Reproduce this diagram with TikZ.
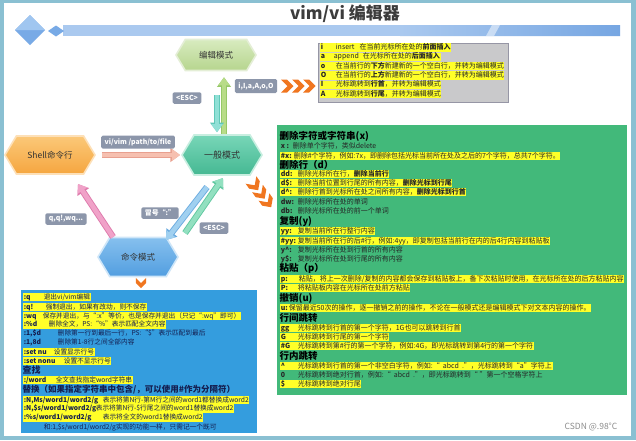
\documentclass[tikz,border=0pt]{standalone}
\usepackage{fontspec}
\setmainfont{Noto Sans CJK SC}
\usetikzlibrary{shapes.symbols,arrows.meta,calc}
\definecolor{framec}{RGB}{138,192,210}
\definecolor{barlight}{RGB}{170,201,239}
\definecolor{bardark}{RGB}{118,166,226}
\definecolor{diam}{RGB}{120,170,230}
\definecolor{diaml}{RGB}{160,198,240}
\definecolor{titlec}{RGB}{60,60,60}
\definecolor{hextext}{RGB}{50,50,50}
\definecolor{labgray}{RGB}{140,150,170}
\definecolor{hly}{RGB}{255,255,40}
\definecolor{grayfill}{RGB}{201,201,203}
\definecolor{grayline}{RGB}{150,150,165}
\definecolor{greenfill}{RGB}{66,185,122}
\definecolor{bluefill}{RGB}{52,157,222}
\definecolor{navy}{RGB}{20,30,80}
\definecolor{chevc}{RGB}{240,118,32}
\definecolor{wm}{RGB}{140,140,140}
\definecolor{greenA}{RGB}{184,220,136}\definecolor{greenAo}{RGB}{150,200,104}
\definecolor{tealA}{RGB}{144,224,214}\definecolor{tealAo}{RGB}{96,200,184}
\definecolor{salA}{RGB}{246,192,176}\definecolor{salAo}{RGB}{232,160,144}
\definecolor{pinkA}{RGB}{240,162,200}\definecolor{pinkAo}{RGB}{222,122,172}
\definecolor{bluA}{RGB}{160,208,240}\definecolor{bluAo}{RGB}{108,172,224}
\definecolor{mintA}{RGB}{146,224,192}\definecolor{mintAo}{RGB}{96,200,160}
\newcommand\fsz[1]{\fontsize{#1}{#1}\selectfont}
\newcommand\mylb[2]{\makebox[#1][l]{\bfseries #2}}
\newcommand\fatarr[3]{%
  \draw[#2, line width=6.4pt, -{Triangle[length=9.6pt,width=13.4pt]}] #3;
  \draw[#1, line width=4.6pt, -{Triangle[length=8pt,width=11pt]}] #3;}
\tikzset{
  hexa/.style={signal, signal to=west and east, signal pointer angle=118,
    line width=1.6pt, inner sep=0pt, font=\fsz{8.5}, text=hextext},
  lab/.style={fill=labgray, text=white, rounded corners=1.5pt, inner xsep=3.5pt,
    inner ysep=0pt, minimum height=11.5pt, font=\fsz{6.9}\bfseries},
  hl/.style={fill=hly, anchor=west, inner xsep=0.6pt, inner ysep=0.5pt,
    text height=5.7pt, text depth=1.5pt, font=\fsz{7}, text=black!85},
  pl/.style={hl, fill=none},
  hd/.style={anchor=west, inner sep=0.5pt, font=\fsz{9.5}\bfseries, text=black},
  bhl/.style={hl, font=\fsz{6.7}, text=navy},
  bpl/.style={bhl, fill=none},
  bhd/.style={hd, text=navy},
  chev/.pic={\fill[chevc] (0,-6.5) -- (6,-6.5) -- (12.5,0) -- (6,6.5) -- (0,6.5) -- (6.5,0) -- cycle;},
}
\begin{document}
\begin{tikzpicture}[x=1pt,y=-1pt]
\useasboundingbox (0,0) rectangle (636,440);
\fill[framec] (0,0) rectangle (636,440);
\fill[white] (4,3) rectangle (631,436);
% title bar
\fill[barlight] (63,25) rectangle (620,36);
\shade[left color=barlight, right color=bardark] (400,36) -- (404,25) -- (620,25) -- (620,36) -- cycle;
\fill[white, opacity=0.5] (486,36) -- (492,25) -- (500,25) -- (494,36) -- cycle;
\fill[diam] (30,15) -- (45,30) -- (30,45) -- (15,30) -- cycle;
\fill[diaml] (30,15) -- (45,30) -- (15,30) -- cycle;
\fill[diam] (56,25.5) -- (64,31) -- (56,36.5) -- (48,31) -- cycle;
\node[font=\fsz{17}\bfseries, text=titlec] (title) at (345,14) {vim/vi 编辑器};
% hexagons
\node[hexa, minimum width=80pt, minimum height=31pt, top color={rgb,255:red,216;green,235;blue,191}, bottom color={rgb,255:red,182;green,213;blue,142}, draw={rgb,255:red,228;green,238;blue,214}] (edit) at (216,55) {编辑模式};
\node[hexa, minimum width=80pt, minimum height=40pt, top color={rgb,255:red,120;green,214;blue,184}, bottom color={rgb,255:red,69;green,184;blue,146}, draw={rgb,255:red,200;green,238;blue,224}, font=\fsz{9}] (gen) at (222,155) {一般模式};
\node[hexa, minimum width=90pt, minimum height=38pt, top color={rgb,255:red,251;green,200;blue,120}, bottom color={rgb,255:red,245;green,166;blue,64}, draw={rgb,255:red,253;green,224;blue,184}] (shell) at (50,155) {Shell命令行};
\node[hexa, minimum width=80pt, minimum height=39pt, top color={rgb,255:red,134;green,192;blue,238}, bottom color={rgb,255:red,82;green,158;blue,224}, draw={rgb,255:red,207;green,230;blue,248}] (cmd) at (138,257) {命令模式};
% arrows
\fatarr{greenA}{greenAo}{($(gen.north)+(2,0)$) -- ($(edit.south)+(8,6)$)}
\fatarr{tealA}{tealAo}{($(edit.south)+(1,24)$) -- ($(gen.north)+(-5,-2)$)}
\fatarr{salA}{salAo}{($(shell.east)+(6,0)$) -- ($(gen.west)+(-1,0)$)}
\fatarr{pinkA}{pinkAo}{($(cmd.center)+(-25,-20)$) -- ($(shell.center)+(28,29)$)}
\fatarr{bluA}{bluAo}{($(gen.center)+(-15,32)$) -- ($(cmd.center)+(28,-17)$)}
\fatarr{mintA}{mintAo}{($(cmd.center)+(47,-24)$) -- ($(gen.center)+(1,23)$)}
% labels
\node[lab] (lesc1) at (187,98) {<ESC>};
\node[lab, minimum height=14pt] (lins) at (256,86) {i,I,a,A,o,O};
\node[lab, minimum height=13pt] (lvi) at (138,142) {vi/vim /path/to/file};
\node[lab] (lq) at (66,219) {q,q!,wq...};
\node[lab] (lcol) at (160,213) {冒号“:”};
\node[lab] (lesc2) at (214,228) {<ESC>};
% chevrons
\pic at (281,86) {chev};
\pic at (292,86) {chev};
\pic at (303,86) {chev};
\pic[rotate=-55] at (251,180) {chev};
\pic[rotate=-55] at (257.5,188.5) {chev};
\pic[rotate=-55] at (264,197) {chev};
\pic[rotate=-90, scale=0.8] at (141,278) {chev};
% gray insert box
\node[fill=grayfill, draw=grayline, line width=0.8pt, minimum width=190pt, minimum height=59pt, anchor=north west, inner sep=0pt] (gbox) at (318,43) {};
\node[hl] (i1) at (320,47.5) {\mylb{15pt}{i}insert\hspace{5pt}在当前光标所在处的\textbf{前面插入}};
\node[hl] (i2) at (320,56.8) {\mylb{13pt}{a}append\hspace{4pt}在光标所在处的\textbf{后面插入}};
\node[hl] (i3) at (320,66.1) {\mylb{15pt}{o}在当前行的\textbf{下方}新建新的一个空白行，并转为编辑模式};
\node[hl] (i4) at (320,75.4) {\mylb{15pt}{O}在当前行的\textbf{上方}新建新的一个空白行，并转为编辑模式};
\node[hl] (i5) at (320,84.7) {\mylb{15pt}{I}光标跳转到\textbf{行首}，并转为编辑模式};
\node[hl] (i6) at (320,94) {\mylb{15pt}{A}光标跳转到\textbf{行尾}，并转为编辑模式};
% green box
\node[fill=greenfill, minimum width=350pt, minimum height=270pt, anchor=north west, inner sep=0pt] (gbx) at (277,125) {};
\node[hd] (gh1) at (279,136) {删除字符或字符串(x)};
\node[pl] (g1) at (280,146) {\mylb{12pt}{x :}删除单个字符，类似delete};
\node[hl] (g2) at (280,156) {\mylb{13pt}{\#x:}删除\#个字符，例如:7x，即删除包括光标当前所在处及之后的7个字符，总共7个字符。};
\node[hd] (gh2) at (279,165) {删除行（d）};
\node[hl] (g3) at (280,174) {\mylb{17pt}{dd:}删除光标所在行，\textbf{删除当前行}};
\node[hl] (g4) at (280,183) {\mylb{17pt}{d\$:}删除当前位置到行尾的所有内容，\textbf{删除光标到行尾}};
\node[hl] (g5) at (280,192) {\mylb{17pt}{d\textasciicircum:}删除行首到光标所在处之间所有内容，\textbf{删除光标到行首}};
\node[pl] (g6) at (280,202) {\mylb{17pt}{dw:}删除光标所在处的单词};
\node[pl] (g7) at (280,211) {\mylb{17pt}{db:}删除光标所在处的前一个单词};
\node[hd] (gh3) at (279,221) {复制(y)};
\node[hl] (g8) at (280,231) {\mylb{17pt}{yy:}复制当前所在行整行内容};
\node[hl] (g9) at (280,241) {\mylb{17pt}{\#yy:}复制当前所在行的后\#行，例如:4yy，即复制包括当前行在内的后4行内容到粘贴板};
\node[pl] (g10) at (280,250) {\mylb{17pt}{y\textasciicircum:}复制光标所在处到行首的所有内容};
\node[pl] (g11) at (280,259) {\mylb{17pt}{y\$:}复制光标所在处到行尾的所有内容};
\node[hd] (gh4) at (279,268) {粘贴（p）};
\node[hl] (g12) at (280,279) {\mylb{18pt}{p:}粘贴，将上一次删除/复制的内容都会保存到粘贴板上，备下次粘贴时使用，在光标所在处的后方粘贴内容};
\node[hl] (g13) at (280,288) {\mylb{17pt}{P:}将粘贴板内容在光标所在处前方粘贴};
\node[hd] (gh5) at (279,298) {撤销(u)};
\node[hl] (g14) at (280,308) {\mylb{8pt}{u:}保留最近50次的操作，逐一撤销之前的操作，不论在一般模式还是编辑模式下对文本内容的操作。};
\node[hd] (gh6) at (279,318) {行间跳转};
\node[hl] (g15) at (280,328) {\mylb{17pt}{gg}光标跳转到行首的第一个字符，1G也可以跳转到行首};
\node[hl] (g16) at (280,337) {\mylb{17pt}{G}光标跳转到行尾的第一个字符};
\node[hl] (g17) at (280,346) {\mylb{17pt}{\#G}光标跳转到第\#行的第一个字符，例如:4G，即光标跳转到第4行的第一个字符};
\node[hd] (gh7) at (279,356) {行内跳转};
\node[hl] (g18) at (280,366) {\mylb{17pt}{\textasciicircum}光标跳转到行首的第一个非空白字符，例如:“\ \ abcd\ \ .”，光标跳转到“a”字符上};
\node[pl] (g19) at (280,375) {\mylb{17pt}{0}光标跳转到绝对行首，例如:“\ \ abcd\ \ .”，即光标跳转到“\ ”第一个空格字符上};
\node[hl] (g20) at (280,384) {\mylb{17pt}{\$}光标跳转到绝对行尾};
% blue box
\node[fill=bluefill, minimum width=236pt, minimum height=143pt, anchor=north west, inner sep=0pt] (bbx) at (21,290) {};
\node[bhl] (b1) at (23,297) {\mylb{20pt}{:q}退出vi/vim编辑};
\node[bhl] (b2) at (23,307) {\mylb{22pt}{:q!}强制退出，如果有改动，则不保存};
\node[bhl] (b3) at (23,316) {\mylb{19pt}{:wq}保存并退出，与“:x”等价，也是保存并退出（只记“:wq”即可）};
\node[bhl] (b4) at (23,324.5) {\mylb{25pt}{:\%d}删除全文，PS:“\%”表示匹配全文内容};
\node[bpl] (b5) at (23,333) {\mylb{34pt}{:1,\$d}删除第一行到最后一行，PS:“\$”表示匹配到最后};
\node[bpl] (b6) at (23,342) {\mylb{34pt}{:1,8d}删除第1-8行之间全部内容};
\node[bhl] (b7) at (23,352) {\mylb{30pt}{:set nu}设置显示行号};
\node[bhl] (b8) at (23,361) {\mylb{40pt}{:set nonu}设置不显示行号};
\node[bhd, font=\fsz{9}\bfseries] (bh1) at (22,370.5) {查找};
\node[bhl] (b9) at (23,380) {\mylb{32pt}{:/word}全文查找指定word字符串};
\node[bhd, font=\fsz{8.5}\bfseries] (bh2) at (22,390) {替换（如果指定字符串中包含/，可以使用\#作为分隔符）};
\node[bhl] (b10) at (23,400) {\mylb{79pt}{:N,Ms/word1/word2/g}表示将第N行-第M行之间的word1都替换成word2};
\node[bhl] (b11) at (23,408.5) {\mylb{72pt}{:N,\$s/word1/word2/g}表示将第N行-\$行尾之间的word1替换成word2};
\node[bhl] (b12) at (23,417.5) {\mylb{79pt}{:\%s/word1/word2/g}表示将全文的word1替换成word2};
\node[bpl] (b13) at (43,427) {和:1,\$s/word1/word2/g实现的功能一样，只需记一个既可};
% watermark
\node[font=\fsz{8.5}, text=wm] (wmk) at (591,427) {CSDN @.98°C};
\end{tikzpicture}
\end{document}
